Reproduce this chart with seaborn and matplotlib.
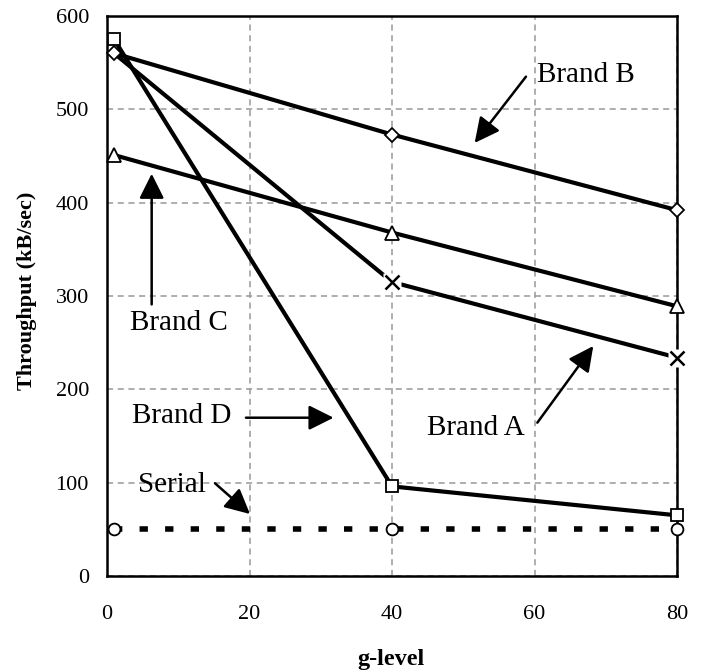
import matplotlib
matplotlib.use("Agg")
import matplotlib.pyplot as plt
import seaborn as sns
import pandas as pd

# ---- data ----
g_level = [1, 40, 80]
brand_a = [560, 315, 234]
brand_b = [560, 473, 392]
brand_c = [451, 368, 289]
brand_d = [575, 96, 65]
serial = [50, 50, 50]

x_ticks = [0, 20, 40, 60, 80]
y_ticks = [0, 100, 200, 300, 400, 500, 600]

sns.set_style("white")
plt.rcParams['font.family'] = ['Liberation Serif', 'DejaVu Serif']
plt.rcParams['text.color'] = 'black'
plt.rcParams['axes.labelcolor'] = 'black'
plt.rcParams['xtick.color'] = 'black'
plt.rcParams['ytick.color'] = 'black'

fig = plt.figure(figsize=(7.01, 6.71), dpi=100)
ax = fig.add_axes([107/701, 1-576/671, (677-107)/701, (576-16)/671])

black = "black"
lw = 3.0

# Brand D (squares)
sns.lineplot(x=g_level, y=brand_d, ax=ax, color=black, lw=lw, marker="s", ms=9,
             markerfacecolor="white", markeredgecolor=black, mew=1.3, clip_on=False, zorder=5)
# Brand B (diamonds)
sns.lineplot(x=g_level, y=brand_b, ax=ax, color=black, lw=lw, marker="D", ms=7.3,
             markerfacecolor="white", markeredgecolor=black, mew=1.3, clip_on=False, zorder=5)
# Brand C (triangles)
sns.lineplot(x=g_level, y=brand_c, ax=ax, color=black, lw=lw, marker="^", ms=9.5,
             markerfacecolor="white", markeredgecolor=black, mew=1.3, clip_on=False, zorder=5)
# Brand A (x)
sns.lineplot(x=g_level, y=brand_a, ax=ax, color=black, lw=lw, clip_on=False, zorder=4)
ax.plot(g_level[1:], brand_a[1:], ls="none", marker="s", ms=13, mfc="white", mec="none",
        clip_on=False, zorder=6)
ax.plot(g_level[1:], brand_a[1:], ls="none", marker="x", ms=10, mec=black, mew=1.8,
        clip_on=False, zorder=7)
# Serial (circles, dashed)
sns.lineplot(x=g_level, y=serial, ax=ax, color=black, lw=4.0, clip_on=False, zorder=4)
ax.lines[-1].set_linestyle((0, (1.5, 3.1)))
ax.plot(g_level, serial, ls="none", marker="o", ms=8.5, mfc="white", mec=black, mew=1.3,
        clip_on=False, zorder=6)
for ln in ax.lines[:3]:
    ln.set_zorder(5)

ax.set_xlim(0, 80)
ax.set_ylim(0, 600)
ax.set_xticks(x_ticks)
ax.set_yticks(y_ticks)
ax.tick_params(axis="both", direction="out", length=7, width=1.2, colors=black,
               labelsize=16)
ax.tick_params(axis="x", pad=14)
ax.tick_params(axis="y", pad=6)
ax.grid(True, color="#999999", ls=(0, (4, 3)), lw=1.1)
for s in ax.spines.values():
    s.set_color(black)
    s.set_linewidth(1.8)
    s.set_zorder(3)

ax.set_xlabel("g-level", fontsize=17.5, fontweight="bold")
ax.set_ylabel("Throughput (kB/sec)", fontsize=16, fontweight="bold")
ax.xaxis.set_label_coords(0.498, -0.15)
ax.xaxis.label.set_va("center")
ax.yaxis.set_label_coords(-0.14, 0.51)
ax.yaxis.label.set_va("center")

arrow = dict(arrowstyle="-|>", color=black, lw=1.8, mutation_scale=38,
             shrinkA=0, shrinkB=0)
fs = 21
ax.text(60.3, 537, "Brand B", fontsize=fs, ha="left", va="center")
ax.annotate("", xy=(51.6, 464), xytext=(58.8, 535), arrowprops=arrow)

ax.text(10.1, 271, "Brand C", fontsize=fs, ha="center", va="center")
ax.annotate("", xy=(6.27, 431), xytext=(6.27, 291), arrowprops=arrow)

ax.text(3.5, 171, "Brand D", fontsize=fs, ha="left", va="center")
ax.annotate("", xy=(31.8, 169.6), xytext=(19.5, 169.6), arrowprops=arrow)

ax.text(44.9, 158.6, "Brand A", fontsize=fs, ha="left", va="center")
ax.annotate("", xy=(68.25, 246.4), xytext=(60.4, 164.3), arrowprops=arrow)

ax.text(4.4, 97.5, "Serial", fontsize=fs, ha="left", va="center")
ax.annotate("", xy=(20.07, 66.4), xytext=(15.16, 99.3), arrowprops=arrow)

fig.savefig("out.png", dpi=100)
